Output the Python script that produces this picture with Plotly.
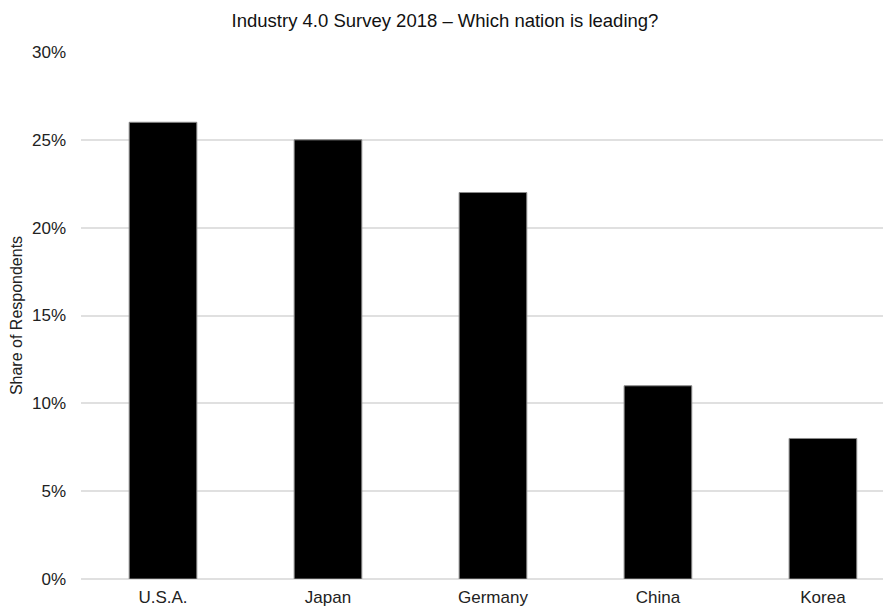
import plotly.graph_objects as go

countries = ["U.S.A.", "Japan", "Germany", "China", "Korea"]
shares = [0.26, 0.25, 0.22, 0.11, 0.08]
y_ticks = [0, 0.05, 0.10, 0.15, 0.20, 0.25, 0.30]
y_tick_labels = ["0%", "5%", "10%", "15%", "20%", "25%", "30%"]

fig = go.Figure(go.Bar(
    x=countries, y=shares,
    marker=dict(color="#000000", line=dict(color="#8a8a8a", width=1)),
    width=0.41,
))

fig.update_layout(
    width=891, height=609,
    margin=dict(l=73, r=0, t=44, b=38),
    paper_bgcolor="white", plot_bgcolor="white",
    font=dict(family="Liberation Sans, Arial, sans-serif", color="#222222"),
    title=dict(text="Industry 4.0 Survey 2018 – Which nation is leading?",
               x=(445 - 8) / 891, xanchor="center", xref="container",
               y=1 - 13 / 609, yanchor="middle",
               yref="container", font=dict(size=18.5, color="#111111")),
    showlegend=False,
    bargap=0.59,
)
fig.update_xaxes(range=[-0.497, 4.461], showgrid=False, showline=False,
                 tickfont=dict(size=17, color="#222222"), ticklabelstandoff=6,
                 fixedrange=True)
fig.update_yaxes(range=[0, 0.30], tickvals=y_ticks, ticktext=y_tick_labels,
                 showgrid=True, gridcolor="#e0e0e0", gridwidth=2,
                 zeroline=True, zerolinecolor="#e0e0e0", zerolinewidth=2,
                 showline=False, tickfont=dict(size=17, color="#222222"),
                 ticklabelstandoff=14,
                 title=dict(text="Share of Respondents", font=dict(size=16, color="#222222"),
                            standoff=10))

fig.write_html("out.html")
